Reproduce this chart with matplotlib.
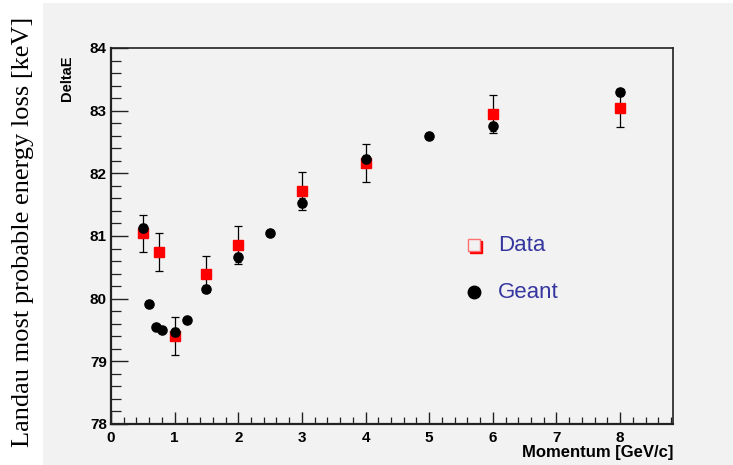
import numpy as np
import matplotlib.pyplot as plt
from matplotlib.patches import Rectangle

# measured most probable energy loss (red squares)
data_p = [0.5, 0.75, 1.0, 1.5, 2.0, 3.0, 4.0, 6.0, 8.0]
data_de = [81.04, 80.74, 79.40, 80.39, 80.86, 81.72, 82.16, 82.95, 83.04]
data_err = [0.30, 0.30, 0.30, 0.29, 0.30, 0.30, 0.30, 0.30, 0.30]

# simulation (black circles)
geant_p = [0.5, 0.6, 0.7, 0.8, 1.0, 1.2, 1.5, 2.0, 2.5, 3.0, 4.0, 5.0, 6.0, 8.0]
geant_de = [81.13, 79.92, 79.55, 79.50, 79.47, 79.66, 80.16, 80.66, 81.05,
            81.53, 82.23, 82.60, 82.75, 83.29]
geant_err = [0.06, 0.05, 0.05, 0.05, 0.06, 0.05, 0.06, 0.07, 0.05,
             0.07, 0.07, 0.05, 0.07, 0.05]

grey = '#f2f2f2'
blue = '#3636a0'

fig = plt.figure(figsize=(7.33, 4.65), dpi=100)
fig.patch.set_facecolor('white')
fig.patches.append(Rectangle((43 / 733, 0), 1, 1 - 3 / 465, transform=fig.transFigure,
                             facecolor=grey, edgecolor='none', zorder=-5))

ax = fig.add_axes([0.1514, 0.0882, 0.7666, 0.8086])
ax.set_zorder(2)
ax.set_facecolor(grey)

ax.errorbar(data_p, data_de, yerr=data_err, fmt='s', color='red', markersize=7.5,
            ecolor='black', elinewidth=0.9, capsize=3, capthick=0.9, zorder=3)
ax.errorbar(geant_p, geant_de, yerr=geant_err, fmt='o', color='black', markersize=6.6,
            ecolor='black', elinewidth=0.9, capsize=2.5, capthick=0.9, zorder=4)

ax.set_xlim(0, 8.83)
ax.set_ylim(78, 84)
ax.set_xticks(np.arange(0, 9, 1))
ax.set_xticks(np.arange(0, 8.81, 0.2), minor=True)
ax.set_yticks(np.arange(78, 84.1, 1))
ax.set_yticks(np.arange(78, 84.01, 0.2), minor=True)

ax.tick_params(axis='both', which='both', direction='in', top=False, right=False,
               labelsize=11, color='#222222')
ax.tick_params(axis='y', which='major', length=12, width=1.0, pad=3)
ax.tick_params(axis='y', which='minor', length=7, width=0.9)
ax.tick_params(axis='x', which='major', length=8.5, width=1.0, pad=5)
ax.tick_params(axis='x', which='minor', length=5, width=0.9)
for lab in ax.get_xticklabels() + ax.get_yticklabels():
    lab.set_fontweight('bold')
    lab.set_family('Liberation Sans')

ax.spines['left'].set_linewidth(1.6)
ax.spines['bottom'].set_linewidth(1.6)
ax.spines['top'].set_linewidth(1.2)
ax.spines['right'].set_linewidth(1.2)
for s in ax.spines.values():
    s.set_color('#222222')

# legend drawn by hand
ax.plot([0.6495], [0.470], transform=ax.transAxes, marker='s', markersize=8.5,
        color='red', linestyle='none', clip_on=False, zorder=5)
ax.plot([0.6455], [0.476], transform=ax.transAxes, marker='s', markersize=8.5,
        markerfacecolor=grey, markeredgecolor='#ff7070', markeredgewidth=1.0,
        linestyle='none', clip_on=False, zorder=6)
ax.text(0.689, 0.474, 'Data', transform=ax.transAxes, fontsize=16, color=blue,
        family='Liberation Sans', va='center', ha='left')
ax.plot([0.6455], [0.351], transform=ax.transAxes, marker='o', markersize=9,
        color='black', linestyle='none', clip_on=False, zorder=5)
ax.text(0.689, 0.351, 'Geant', transform=ax.transAxes, fontsize=16, color=blue,
        family='Liberation Sans', va='center', ha='left')

fig.text(0.0914, 0.8796, 'DeltaE', rotation=90, ha='center', va='top',
         fontsize=10.5, fontweight='bold', family='Liberation Sans')
fig.text(0.918, 0.027, 'Momentum [GeV/c]', ha='right', va='center',
         fontsize=12, fontweight='bold', family='Liberation Sans')
fig.text(0.031, 0.501, 'Landau most probable energy loss [keV]', rotation=90,
         ha='center', va='center', fontsize=19.0, family='Liberation Serif')

fig.savefig('out.png', dpi=100)
